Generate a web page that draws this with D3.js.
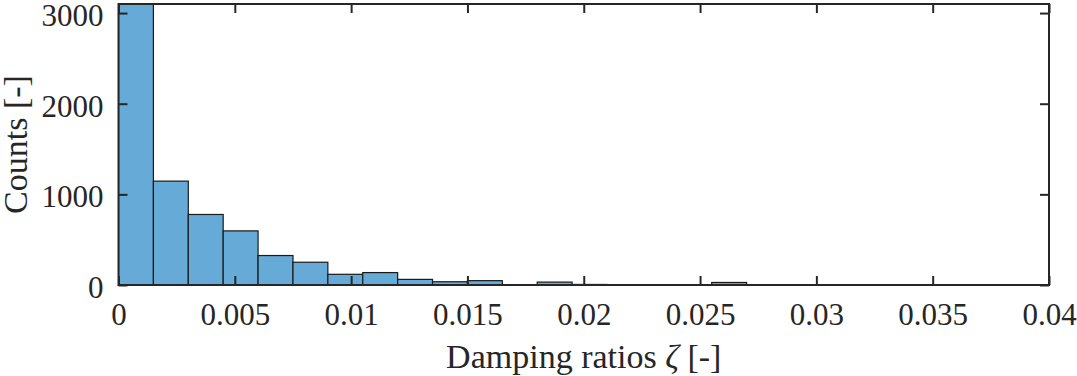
<!DOCTYPE html>
<html>
<head>
<meta charset="utf-8">
<script src="https://cdn.jsdelivr.net/npm/d3@7"></script>
<style>
  html, body { margin: 0; padding: 0; background: #fff; }
  svg { display: block; font-family: "Liberation Serif", "DejaVu Serif", serif; }
</style>
</head>
<body>
<script>
// histogram bins (left edges) and counts
const binEdges = [0, 0.0015, 0.003, 0.0045, 0.006, 0.0075, 0.009, 0.0105, 0.012,
  0.0135, 0.015, 0.0165, 0.018, 0.0195, 0.021, 0.0225, 0.024, 0.0255, 0.027];
const counts = [3900, 1146, 778, 597, 325, 251, 118, 137, 62,
  36, 48, 0, 32, 6, 0, 0, 0, 28];
const binWidth = 0.0015;

const xTicks = [0, 0.005, 0.01, 0.015, 0.02, 0.025, 0.03, 0.035, 0.04];
const xTickLabels = ["0", "0.005", "0.01", "0.015", "0.02", "0.025", "0.03", "0.035", "0.04"];
const yTicks = [0, 1000, 2000, 3000];
const yTickLabels = ["0", "1000", "2000", "3000"];

const W = 1077, H = 376;
const plotLeft = 118.5, plotRight = 1049, plotTop = 4, plotBottom = 285;

const svg = d3.select("body").append("svg")
  .attr("width", W)
  .attr("height", H);

const x = d3.scaleLinear().domain([0, 0.04]).range([plotLeft, plotRight]);
const y = d3.scaleLinear().domain([0, 3100]).range([plotBottom, plotTop]);

svg.append("clipPath").attr("id", "plot")
  .append("rect")
  .attr("x", plotLeft).attr("y", plotTop)
  .attr("width", plotRight - plotLeft).attr("height", plotBottom - plotTop);

// bars
svg.append("g")
  .attr("clip-path", "url(#plot)")
  .selectAll("rect")
  .data(counts.map((c, i) => ({ x0: binEdges[i], c: c })).filter(d => d.c > 0))
  .enter().append("rect")
  .attr("x", d => x(d.x0))
  .attr("y", d => y(d.c))
  .attr("width", d => x(d.x0 + binWidth) - x(d.x0))
  .attr("height", d => plotBottom - y(d.c))
  .attr("fill", "#66aad7")
  .attr("stroke", "#1a1a1a")
  .attr("stroke-width", 1.2);

// axes, ticks inward, MATLAB box
const tickLen = 9;
const axisColor = "#262626";
const tickFont = "31px";

const xAxis = d3.axisBottom(x).tickValues(xTicks)
  .tickFormat((d, i) => xTickLabels[i]).tickSizeInner(-tickLen).tickSizeOuter(0).tickPadding(18);
const gx = svg.append("g").attr("transform", "translate(0," + plotBottom + ")").call(xAxis);

const xAxisTop = d3.axisTop(x).tickValues(xTicks)
  .tickFormat("").tickSizeInner(-tickLen).tickSizeOuter(0);
const gxt = svg.append("g").attr("transform", "translate(0," + plotTop + ")").call(xAxisTop);

const yAxis = d3.axisLeft(y).tickValues(yTicks)
  .tickFormat((d, i) => yTickLabels[i]).tickSizeInner(-tickLen).tickSizeOuter(0).tickPadding(15);
const gy = svg.append("g").attr("transform", "translate(" + plotLeft + ",0)").call(yAxis);

const yAxisRight = d3.axisRight(y).tickValues(yTicks)
  .tickFormat("").tickSizeInner(-tickLen).tickSizeOuter(0);
const gyr = svg.append("g").attr("transform", "translate(" + plotRight + ",0)").call(yAxisRight);

[gx, gxt, gy, gyr].forEach(g => {
  g.select(".domain").remove();
  g.selectAll(".tick line").attr("stroke", axisColor).attr("stroke-width", 2);
  g.selectAll(".tick text")
    .attr("fill", "#262626")
    .style("font-size", tickFont)
    .style("font-family", "Liberation Serif, serif");
});
gx.selectAll(".tick text").attr("dy", "0.71em");
gy.selectAll(".tick text").attr("dy", "0.4em");

svg.append("rect")
  .attr("x", plotLeft).attr("y", plotTop)
  .attr("width", plotRight - plotLeft).attr("height", plotBottom - plotTop)
  .attr("fill", "none")
  .attr("stroke", axisColor)
  .attr("stroke-width", 2);

// axis labels
svg.append("text")
  .attr("x", (plotLeft + plotRight) / 2)
  .attr("y", 368)
  .attr("text-anchor", "middle")
  .attr("fill", "#262626")
  .style("font-size", "34px")
  .html('Damping ratios <tspan font-style="italic">ζ</tspan> [-]');

svg.append("text")
  .attr("transform", "translate(27," + ((plotTop + plotBottom) / 2) + ") rotate(-90)")
  .attr("text-anchor", "middle")
  .attr("fill", "#262626")
  .style("font-size", "34px")
  .text("Counts [-]");
</script>
</body>
</html>
